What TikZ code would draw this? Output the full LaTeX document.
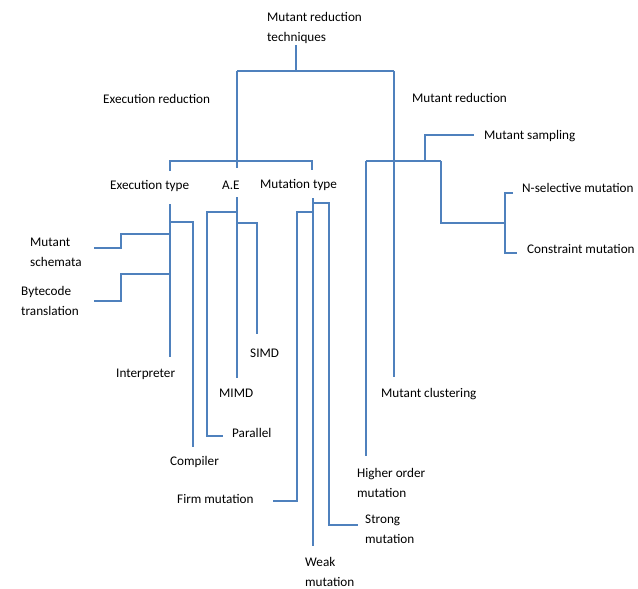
\documentclass[tikz,border=0pt]{standalone}
\usepackage{fontspec}
\setmainfont{Carlito}
\definecolor{lineblue}{HTML}{4F81BD}
\begin{document}
\begin{tikzpicture}[x=1pt,y=-1pt,
  lab/.style={anchor=west, inner sep=0pt, align=left, font=\fontsize{13.2}{20}\selectfont},
  conn/.style={draw=lineblue, line width=1.3pt}]
\useasboundingbox (0,0) rectangle (638,589);
% labels
\node[lab] (root) at (267,28) {Mutant reduction\\techniques};
\node[lab] (er) at (103,99) {Execution reduction};
\node[lab] (mr) at (412,98) {Mutant reduction};
\node[lab] (et) at (110,186) {Execution type};
\node[lab] (ae) at (222,185) {A.E};
\node[lab] (mt) at (260,185) {Mutation type};
\node[lab] (ms) at (30,252) {Mutant\\schemata};
\node[lab] (bt) at (21,301) {Bytecode\\translation};
\node[lab] (int) at (116,374) {Interpreter};
\node[lab] (comp) at (170,462) {Compiler};
\node[lab] (simd) at (250,353) {SIMD};
\node[lab] (mimd) at (219,393) {MIMD};
\node[lab] (par) at (232,433) {Parallel};
\node[lab] (firm) at (177,499) {Firm mutation};
\node[lab] (weak) at (305,572) {Weak\\mutation};
\node[lab] (strong) at (365,529) {Strong\\mutation};
\node[lab] (hom) at (357,483) {Higher order\\mutation};
\node[lab] (mc) at (381,394) {Mutant clustering};
\node[lab] (msamp) at (484,136) {Mutant sampling};
\node[lab] (nsel) at (522,188) {N-selective mutation};
\node[lab] (cons) at (527,249) {Constraint mutation};
% junction coordinates
\coordinate (rootend) at (296,45);
\coordinate (rootj) at (296,71);
\coordinate (erj) at (237,71);
\coordinate (mrj) at (394,71);
\coordinate (mcend) at (394,377);
\coordinate (erbar) at (237,168);
\coordinate (etbarL) at (170,161);
\coordinate (etbarR) at (312,161);
\coordinate (ettick) at (170,171);
\coordinate (mttick) at (312,170);
% top tree
\draw[conn] (rootend) -- (rootj);
\draw[conn] (erj) -- (mrj);
\draw[conn] (erj) -- (erbar);
\draw[conn] (mrj) -- (mcend);
\draw[conn] (ettick) -- (etbarL) -- (etbarR) -- (mttick);
% execution type
\coordinate (etTop) at (170,204);
\coordinate (etBot) at (170,357);
\draw[conn] (etTop) -- (etBot);
\coordinate (compA) at (170,222);
\coordinate (compB) at (193,447);
\draw[conn] (compA) -- (193,222) -- (compB);
\coordinate (msA) at (170,234);
\coordinate (msB) at (94,248);
\draw[conn] (msA) -- (121,234) -- (121,248) -- (msB);
\coordinate (btA) at (170,274);
\coordinate (btB) at (94,301);
\draw[conn] (btA) -- (121,274) -- (121,301) -- (btB);
% A.E
\coordinate (aeTop) at (237,197);
\coordinate (aeBot) at (237,378);
\draw[conn] (aeTop) -- (aeBot);
\coordinate (parA) at (237,212);
\coordinate (parB) at (223,436);
\draw[conn] (parA) -- (207,212) -- (207,436) -- (parB);
\coordinate (simdA) at (237,223);
\coordinate (simdB) at (257,334);
\draw[conn] (simdA) -- (257,223) -- (simdB);
% mutation type
\coordinate (mtTop) at (313,198);
\coordinate (mtBot) at (313,546);
\draw[conn] (mtTop) -- (mtBot);
\coordinate (firmA) at (313,212);
\coordinate (firmB) at (273,501);
\draw[conn] (firmA) -- (297,212) -- (297,501) -- (firmB);
\coordinate (strA) at (313,203);
\coordinate (strB) at (358,525);
\draw[conn] (strA) -- (329,203) -- (329,525) -- (strB);
% mutant reduction
\coordinate (mrL) at (366,161);
\coordinate (mrR) at (441,161);
\draw[conn] (mrL) -- (mrR);
\coordinate (homB) at (366,456);
\draw[conn] (mrL) -- (homB);
\coordinate (sampA) at (425,161);
\coordinate (sampB) at (474,135);
\draw[conn] (sampA) -- (425,135) -- (sampB);
\coordinate (selJ) at (505,223);
\draw[conn] (mrR) -- (441,223) -- (selJ);
\coordinate (nselB) at (513,193);
\coordinate (consB) at (517,253);
\draw[conn] (nselB) -- (505,193) -- (505,253) -- (consB);
\end{tikzpicture}
\end{document}
